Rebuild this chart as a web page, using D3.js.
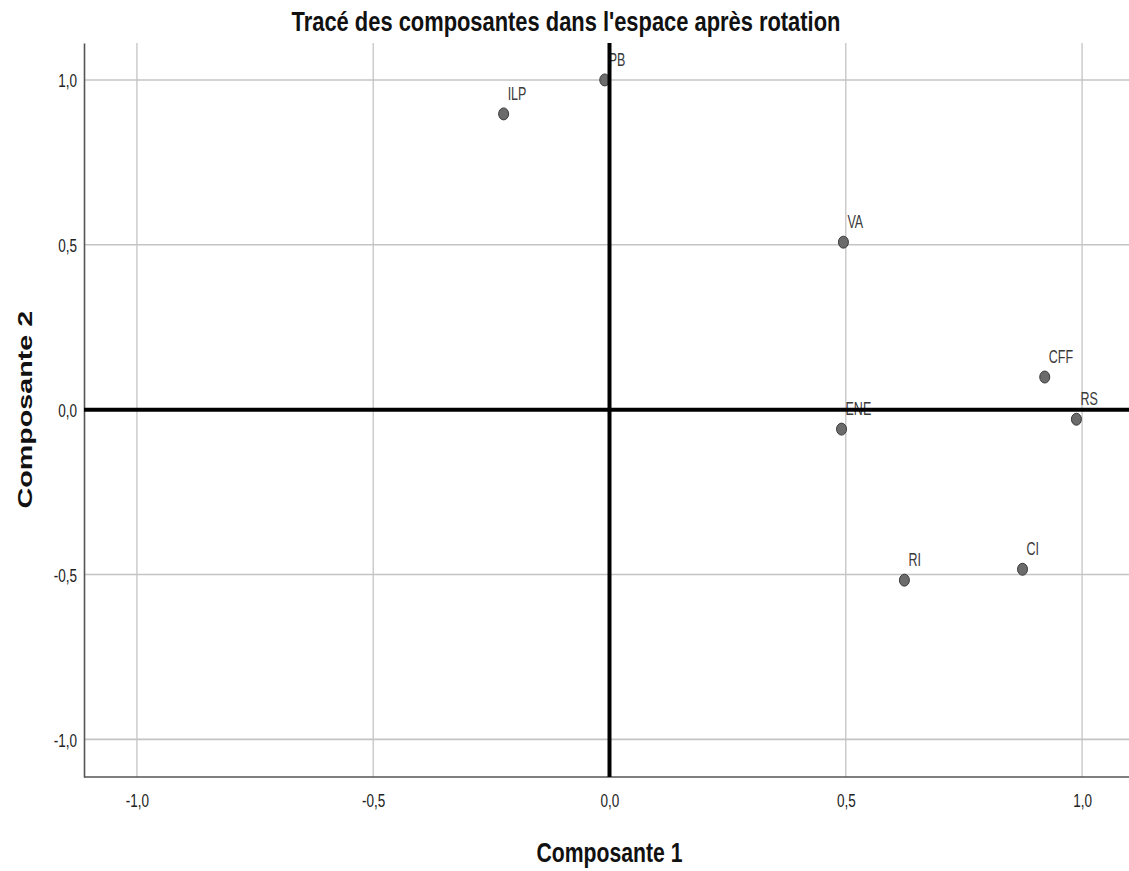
<!DOCTYPE html>
<html>
<head>
<meta charset="utf-8">
<script src="https://cdn.jsdelivr.net/npm/d3@7"></script>
<style>
  html, body { margin: 0; padding: 0; background: #fff; overflow: hidden; }
  svg { display: block; }
</style>
</head>
<body>
<svg id="chart" width="1129" height="871"></svg>
<script>
// Loadings of each variable on the two rotated components
const variables = ["PB", "ILP", "VA", "CFF", "RS", "ENE", "RI", "CI"];
const comp1 = [-0.01, -0.224, 0.495, 0.921, 0.988, 0.491, 0.624, 0.874];
const comp2 = [1.0, 0.897, 0.508, 0.099, -0.029, -0.059, -0.517, -0.484];
const tickValues = [-1.0, -0.5, 0.0, 0.5, 1.0];
const tickLabels = ["-1,0", "-0,5", "0,0", "0,5", "1,0"];

const points = variables.map((name, i) => ({ name, x: comp1[i], y: comp2[i] }));

const svg = d3.select("#chart");
const plotLeft = 84, plotTop = 43, plotW = 1051, plotH = 734;

const x = d3.scaleLinear().domain([-1.112, 1.112]).range([plotLeft, plotLeft + plotW]);
const y = d3.scaleLinear().domain([-1.114, 1.112]).range([plotTop + plotH, plotTop]);

const sans = "'Liberation Sans', Arial, Helvetica, sans-serif";
// glyphs are drawn tall and narrow
const TALL = 1.4;
const place = (px, py, s) => `translate(${px},${py}) scale(1,${s})`;

// gridlines
const g = svg.append("g");
g.selectAll(".vgrid").data(tickValues.filter(v => v !== 0)).join("line")
  .attr("x1", d => x(d)).attr("x2", d => x(d))
  .attr("y1", plotTop).attr("y2", plotTop + plotH)
  .attr("stroke", "#c4c4c4").attr("stroke-width", 1.3);
g.selectAll(".hgrid").data(tickValues.filter(v => v !== 0)).join("line")
  .attr("x1", plotLeft).attr("x2", plotLeft + plotW)
  .attr("y1", d => y(d)).attr("y2", d => y(d))
  .attr("stroke", "#c4c4c4").attr("stroke-width", 1.6);

// axes
const xAxis = d3.axisBottom(x).tickValues(tickValues)
  .tickFormat((d, i) => tickLabels[i]).tickSize(0);
const yAxis = d3.axisLeft(y).tickValues(tickValues)
  .tickFormat((d, i) => tickLabels[i]).tickSize(0);

const gx = svg.append("g").attr("transform", `translate(0,${plotTop + plotH})`).call(xAxis);
const gy = svg.append("g").attr("transform", `translate(${plotLeft},0)`).call(yAxis);
[gx, gy].forEach(a => {
  a.select(".domain").attr("stroke", "#555").attr("stroke-width", 1.6);
  a.selectAll("text").attr("font-family", sans).attr("font-size", 13.5).attr("fill", "#222")
    .attr("x", 0).attr("y", 0).attr("dy", null);
});
gx.select(".domain").attr("d", `M${plotLeft},0H${plotLeft + plotW}`);
gx.selectAll("text").attr("text-anchor", "middle").attr("transform", place(0, 30, TALL));
gy.selectAll("text").attr("text-anchor", "end").attr("transform", place(-7, 7, TALL));

// points
svg.append("g").selectAll("ellipse").data(points).join("ellipse")
  .attr("cx", d => x(d.x)).attr("cy", d => y(d.y)).attr("rx", 5).attr("ry", 6)
  .attr("fill", "#6b6b6b").attr("stroke", "#3a3a3a").attr("stroke-width", 1);

// point labels
svg.append("g").selectAll("text").data(points).join("text")
  .attr("transform", d => place(x(d.x) + 4, y(d.y) - 14, TALL))
  .attr("font-family", sans).attr("font-size", 12.5).attr("fill", "#3a3a3a")
  .text(d => d.name);

// reference lines through the origin
svg.append("line")
  .attr("x1", plotLeft).attr("x2", plotLeft + plotW)
  .attr("y1", y(0)).attr("y2", y(0))
  .attr("stroke", "#000").attr("stroke-width", 4);
svg.append("line")
  .attr("x1", x(0)).attr("x2", x(0))
  .attr("y1", plotTop).attr("y2", plotTop + plotH)
  .attr("stroke", "#000").attr("stroke-width", 4);

// titles
svg.append("text")
  .attr("transform", place(566, 31, 1.3)).attr("text-anchor", "middle")
  .attr("font-family", sans).attr("font-size", 21.9).attr("font-weight", "bold").attr("fill", "#111")
  .text("Tracé des composantes dans l'espace après rotation");
svg.append("text")
  .attr("transform", place(x(0), 862, 1.3)).attr("text-anchor", "middle")
  .attr("font-family", sans).attr("font-size", 21.2).attr("font-weight", "bold").attr("fill", "#111")
  .text("Composante 1");
svg.append("text")
  .attr("transform", `translate(32,${y(0)}) rotate(-90) scale(${TALL},1)`).attr("text-anchor", "middle")
  .attr("font-family", sans).attr("font-size", 20.5)
  .attr("font-weight", "bold").attr("fill", "#111")
  .text("Composante 2");
</script>
</body>
</html>
